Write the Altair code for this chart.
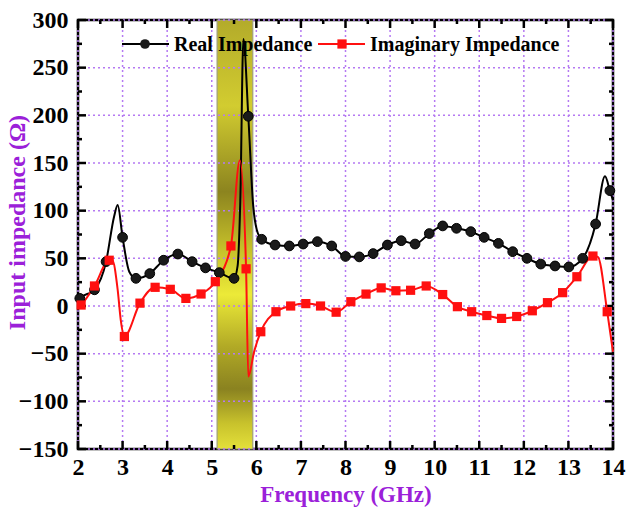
import altair as alt
import pandas as pd

# ---------------- data ----------------
# Real impedance: markers
real_mk_f = [2.04, 2.37, 2.63, 3.00, 3.30, 3.61, 3.92, 4.24, 4.56, 4.86, 5.17, 5.50,
             5.82, 6.12, 6.42, 6.74, 7.05, 7.37, 7.69, 8.00, 8.31, 8.62, 8.94, 9.25,
             9.56, 9.88, 10.18, 10.49, 10.81, 11.11, 11.43, 11.75, 12.07, 12.38, 12.70,
             13.01, 13.32, 13.61, 13.93]
real_mk_v = [8, 17, 46.5, 72, 29, 34, 48, 54.5, 46.5, 40, 35, 29,
             199, 70, 64, 63, 65, 67.5, 63, 52, 51.5, 55, 64, 68.5,
             65, 76, 84, 81.5, 78, 72, 65.7, 57, 50, 44, 42,
             41, 50, 86, 121]
# Real impedance: extra curve vertices between markers
real_ex_f = [2.00, 2.81, 2.89, 3.15, 5.58, 5.64, 5.71, 5.93, 6.01, 13.82, 14.00]
real_ex_v = [4, 94, 106, 36, 42, 110, 280, 105, 80, 136, 111]

# Imaginary impedance: markers
imag_mk_f = [2.07, 2.37, 2.70, 3.04, 3.39, 3.73, 4.07, 4.42, 4.76, 5.08, 5.43, 5.77,
             6.10, 6.44, 6.77, 7.11, 7.44, 7.79, 8.12, 8.46, 8.80, 9.13, 9.46, 9.81,
             10.18, 10.51, 10.83, 11.17, 11.50, 11.84, 12.19, 12.53, 12.87, 13.19,
             13.55, 13.87]
imag_mk_v = [1, 21, 48, -32, 3, 19.6, 17.5, 8, 12.6, 25.5, 63, 39,
             -27, -6, 0, 2.5, 0, -6.5, 4.5, 12.5, 19, 16, 16.5, 21,
             12, -0.7, -6, -10, -13, -11, -5, 3.5, 14, 30.7,
             52.4, -6]
# Imaginary impedance: extra curve vertices between markers
imag_ex_f = [2.00, 2.77, 2.89, 2.96, 5.63, 5.82, 5.95, 13.66, 14.00]
imag_ex_v = [-2, 48, 17, -15, 153, -74, -48, 51.5, -48]

band_f = [5.12, 5.92]                      # highlighted band (GHz)
x_major = list(range(2, 15))
x_minor = [x + 0.5 for x in range(2, 14)]
y_major = list(range(-150, 301, 50))
y_minor = [y + 25 for y in range(-150, 300, 50)]
legend_labels = ["Real Impedance", "Imaginary Impedance"]

# ---------------- styling ----------------
W, H = 535, 429
FONT = "Liberation Serif"
PURPLE = "#9B20D9"
GRID = "#B57AF2"
RED = "#FF1010"

real_line = pd.DataFrame({"f": real_mk_f + real_ex_f, "v": real_mk_v + real_ex_v}).sort_values("f")
imag_line = pd.DataFrame({"f": imag_mk_f + imag_ex_f, "v": imag_mk_v + imag_ex_v}).sort_values("f")
real_mk = pd.DataFrame({"f": real_mk_f, "v": real_mk_v})
imag_mk = pd.DataFrame({"f": imag_mk_f, "v": imag_mk_v})

xs = alt.Scale(domain=[2, 14], nice=False, zero=False)
ys = alt.Scale(domain=[-150, 300], nice=False, zero=False)
xaxis = alt.Axis(values=x_major, grid=False, ticks=False, domain=False, labelFont=FONT,
                 labelFontWeight="bold", labelFontSize=24, labelColor="black", labelPadding=6,
                 labelFlush=False, title="Frequency (GHz)", titleFont=FONT, titleFontSize=23,
                 titleFontWeight="bold", titleColor=PURPLE, titlePadding=4)
yaxis = alt.Axis(values=y_major, grid=False, ticks=False, domain=False, labelFont=FONT,
                 labelFontWeight="bold", labelFontSize=24, labelColor="black", labelPadding=10,
                 labelFlush=False, title="Input impedance (Ω)", titleFont=FONT, titleFontSize=24,
                 titleFontWeight="bold", titleColor=PURPLE, titleX=-61, titleY=202,
                 titleAlign="center", titleBaseline="middle", titleAngle=270)
X = alt.X("f:Q", scale=xs, axis=xaxis)
Y = alt.Y("v:Q", scale=ys, axis=yaxis)

band = alt.Chart(pd.DataFrame({"f": [band_f[0]], "f2": [band_f[1]]})).mark_rect(
    stroke="#A09F7A", strokeWidth=1.2,
    color=alt.Gradient(gradient="linear", x1=0, x2=0, y1=0, y2=1, stops=[
        alt.GradientStop(color="#B3AB2A", offset=0.0),
        alt.GradientStop(color="#D2CC30", offset=0.2),
        alt.GradientStop(color="#8C841F", offset=0.4),
        alt.GradientStop(color="#C4BE2A", offset=0.53),
        alt.GradientStop(color="#ECEA38", offset=0.64),
        alt.GradientStop(color="#B2AA26", offset=0.76),
        alt.GradientStop(color="#8A8220", offset=0.86),
        alt.GradientStop(color="#C8C22C", offset=0.94),
        alt.GradientStop(color="#E4E03A", offset=1.0),
    ])
).encode(x=X, x2="f2:Q", y=alt.value(0), y2=alt.value(H))

gx = alt.Chart(pd.DataFrame({"f": x_major})).mark_rule(
    color=GRID, strokeWidth=1.5, strokeDash=[2, 3]).encode(x=X, y=alt.value(0), y2=alt.value(H))
gy = alt.Chart(pd.DataFrame({"v": y_major})).mark_rule(
    color=GRID, strokeWidth=1.5, strokeDash=[2, 3]).encode(y=Y, x=alt.value(0), x2=alt.value(W))

def xticks(vals, L):
    d = pd.DataFrame({"f": vals})
    b = alt.Chart(d).mark_rule(color="black", strokeWidth=2.5).encode(x=X, y=alt.value(H), y2=alt.value(H - L))
    t = alt.Chart(d).mark_rule(color="black", strokeWidth=2.5).encode(x=X, y=alt.value(0), y2=alt.value(L))
    return [b, t]

def yticks(vals, L):
    d = pd.DataFrame({"v": vals})
    l = alt.Chart(d).mark_rule(color="black", strokeWidth=2.5).encode(y=Y, x=alt.value(0), x2=alt.value(L))
    r = alt.Chart(d).mark_rule(color="black", strokeWidth=2.5).encode(y=Y, x=alt.value(W), x2=alt.value(W - L))
    return [l, r]

rl = alt.Chart(real_line).mark_line(color="black", strokeWidth=2, interpolate="monotone").encode(x=X, y=Y)
il = alt.Chart(imag_line).mark_line(color=RED, strokeWidth=2, interpolate="monotone").encode(x=X, y=Y)
rm = alt.Chart(real_mk).mark_point(shape="circle", filled=True, size=95, color="#1a1a1a",
                                   stroke="#000", strokeWidth=1, opacity=1).encode(x=X, y=Y)
im = alt.Chart(imag_mk).mark_point(shape="square", filled=True, size=85, color=RED,
                                   opacity=1).encode(x=X, y=Y)

# legend
ld0 = alt.Data(values=[{"label": legend_labels[0]}])
ld1 = alt.Data(values=[{"label": legend_labels[1]}])
leg = [
    alt.Chart(ld0).mark_rule(color="black", strokeWidth=2).encode(x=alt.value(44), x2=alt.value(91), y=alt.value(24)),
    alt.Chart(ld0).mark_point(shape="circle", filled=True, size=95, color="#1a1a1a", opacity=1).encode(x=alt.value(67), y=alt.value(24)),
    alt.Chart(ld0).mark_text(font=FONT, fontSize=20, fontWeight="bold", align="left", baseline="middle", color="black").encode(
        x=alt.value(96), y=alt.value(25), text="label:N"),
    alt.Chart(ld1).mark_rule(color=RED, strokeWidth=2).encode(x=alt.value(240), x2=alt.value(287), y=alt.value(24)),
    alt.Chart(ld1).mark_point(shape="square", filled=True, size=85, color=RED, opacity=1).encode(x=alt.value(264), y=alt.value(24)),
    alt.Chart(ld1).mark_text(font=FONT, fontSize=20, fontWeight="bold", align="left", baseline="middle", color="black").encode(
        x=alt.value(292), y=alt.value(25), text="label:N"),
]

layers = [band, gx, gy] + xticks(x_major, 8) + xticks(x_minor, 4) + yticks(y_major, 8) + yticks(y_minor, 4) \
    + [rl, il, rm, im] + leg

chart = alt.layer(*layers).properties(
    width=W, height=H, autosize=alt.AutoSizeParams(type="none"),
    padding={"left": 78, "top": 20, "right": 14, "bottom": 63},
    background="white"
).configure_view(stroke="black", strokeWidth=2.5)

chart.save("out.html", embed_options={"renderer": "svg", "actions": False})
